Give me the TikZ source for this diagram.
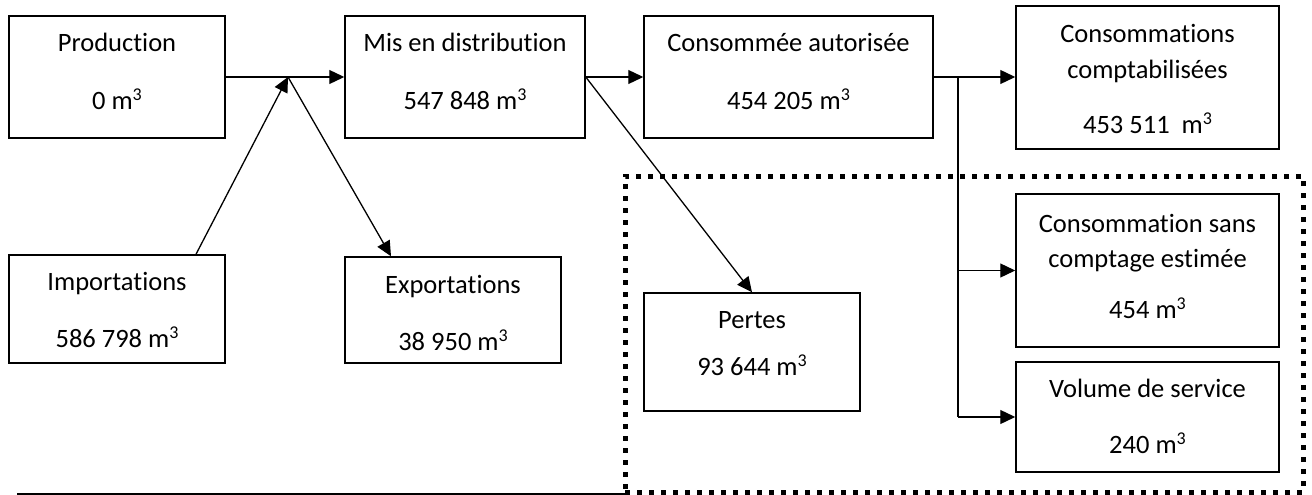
\documentclass[tikz,border=0pt]{standalone}
\usepackage{fontspec}
\setmainfont{Carlito}[Ligatures=NoCommon]
\usetikzlibrary{arrows.meta}
\newcommand\mcube{m\raisebox{9pt}{\fontsize{18}{18}\selectfont 3}}
\begin{document}
\begin{tikzpicture}[x=1pt,y=-1pt,
  box/.style={draw, line width=1.5pt, rectangle, inner sep=0pt},
  txt/.style={anchor=base, inner sep=0pt, font=\fontsize{26.5}{31}\selectfont},
  flow/.style={line width=1.3pt, -{Triangle[length=15pt,width=14pt]}},
  wire/.style={line width=1.3pt},
  zone/.style={draw, line width=5pt, dash pattern=on 5pt off 7pt, inner sep=0pt, rectangle}]
\useasboundingbox (0,0) rectangle (1312,495);

% dotted zone
\node[zone, minimum width=678pt, minimum height=316pt] (lossZone) at (964,334) {};

% boxes
\node[box, minimum width=216pt, minimum height=122pt] (prod) at (117,77) {};
\node[box, minimum width=240pt, minimum height=122pt] (mis) at (465,77) {};
\node[box, minimum width=289pt, minimum height=122pt] (conso) at (788.5,77) {};
\node[box, minimum width=263pt, minimum height=143pt] (compt) at (1147.5,77.5) {};
\node[box, minimum width=263pt, minimum height=153pt] (sans) at (1147.5,270.5) {};
\node[box, minimum width=263pt, minimum height=110pt] (vol) at (1147.5,417) {};
\node[box, minimum width=216pt, minimum height=108pt] (imp) at (117,309) {};
\node[box, minimum width=216pt, minimum height=106pt] (exp) at (453,310) {};
\node[box, minimum width=216pt, minimum height=118pt] (pertes) at (752,352) {};

% texts
\node[txt] (prodA) at (117,52) {Production};
\node[txt] (prodB) at (117,109) {0 \mcube};
\node[txt] (misA) at (465,52) {Mis en distribution};
\node[txt] (misB) at (465,109) {547 848 \mcube};
\node[txt] (consoA) at (788.5,52) {Consommée autorisée};
\node[txt] (consoB) at (788.5,109) {454 205 \mcube};
\node[txt] (comptA) at (1147.5,43) {Consommations};
\node[txt] (comptB) at (1147.5,78) {comptabilisées};
\node[txt] (comptC) at (1147.5,133) {453 511\ \ \mcube};
\node[txt] (sansA) at (1147.5,232) {Consommation sans};
\node[txt] (sansB) at (1147.5,267) {comptage estimée};
\node[txt] (sansC) at (1147.5,318) {454 \mcube};
\node[txt] (volA) at (1147.5,397) {Volume de service};
\node[txt] (volB) at (1147.5,453) {240 \mcube};
\node[txt] (impA) at (117,290) {Importations};
\node[txt] (impB) at (117,347) {586 798 \mcube};
\node[txt] (expA) at (453,293) {Exportations};
\node[txt] (expB) at (453,350) {38 950 \mcube};
\node[txt] (pertesA) at (752,328) {Pertes};
\node[txt] (pertesB) at (752,375) {93 644 \mcube};

% junctions
\coordinate (j1) at (288,77);
\coordinate (j2) at (958,77);

% connectors
\draw[flow] (prod.east) -- (mis.west);
\draw[flow] ([xshift=79pt]imp.north) -- (j1);
\draw[flow] (j1) -- ([xshift=-62pt]exp.north);
\draw[flow] (mis.east) -- (conso.west);
\draw[flow] (mis.east) -- (pertes.north);
\draw[flow] (conso.east) -- (conso.east -| compt.west);
\draw[wire] (j2) -- (j2 |- vol.west);
\draw[flow] (j2 |- sans.west) -- (sans.west);
\draw[flow] (j2 |- vol.west) -- (vol.west);

% base rule
\coordinate (ruleL) at (17,494);
\coordinate (ruleR) at (625,494);
\draw[line width=1.5pt] (ruleL) -- (ruleR);
\end{tikzpicture}
\end{document}
